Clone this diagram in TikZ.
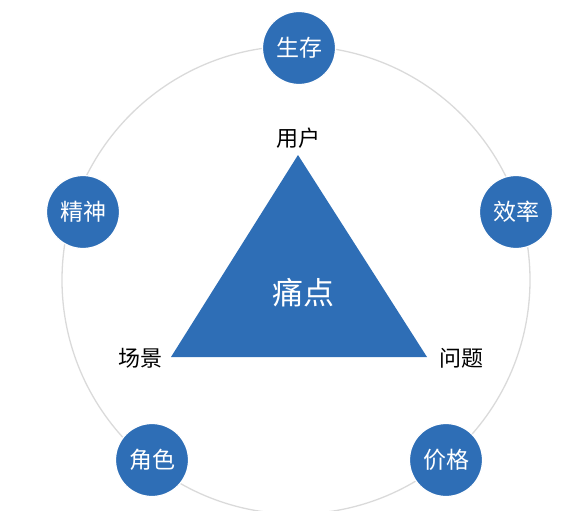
\documentclass[tikz,border=0pt]{standalone}
\usepackage{fontspec}
\usepackage{tikz}
\newfontfamily\cjk{Noto Sans CJK SC}
\definecolor{painblue}{RGB}{46,110,182}
\definecolor{ringgray}{RGB}{218,218,218}

\begin{document}
\begin{tikzpicture}[x=1pt,y=-1pt,
    facet/.style={circle,fill=painblue,draw=white,line width=1.2pt,
      minimum size=73pt,inner sep=0pt,text=white,font=\cjk\fontsize{23}{26}\selectfont},
    corner/.style={font=\cjk\fontsize{22}{26}\selectfont,text=black}]
        \useasboundingbox (0,0) rectangle (565,511);
        % outer ring
        \draw[ringgray,line width=1.3pt] (296,280) circle (234);
        % triangle
        \coordinate (top) at (298,155);
        \coordinate (left) at (171,357);
        \coordinate (right) at (427,357);
        \fill[painblue] (top) -- (left) -- (right) -- cycle;
        \node[text=white,font=\cjk\fontsize{31}{34}\selectfont] (pain) at (303,293) {痛点};
        \node[corner] (user) at (298,138) {用户};
        \node[corner] (scene) at (140,358) {场景};
        \node[corner] (issue) at (461,358) {问题};
        % circles on the ring
        \node[facet] (survive) at (299,48) {生存};
        \node[facet] (spirit) at (83,212) {精神};
        \node[facet] (effic) at (516,212) {效率};
        \node[facet] (role) at (152,460) {角色};
        \node[facet] (price) at (446,460) {价格};
      \end{tikzpicture}
\end{document}
